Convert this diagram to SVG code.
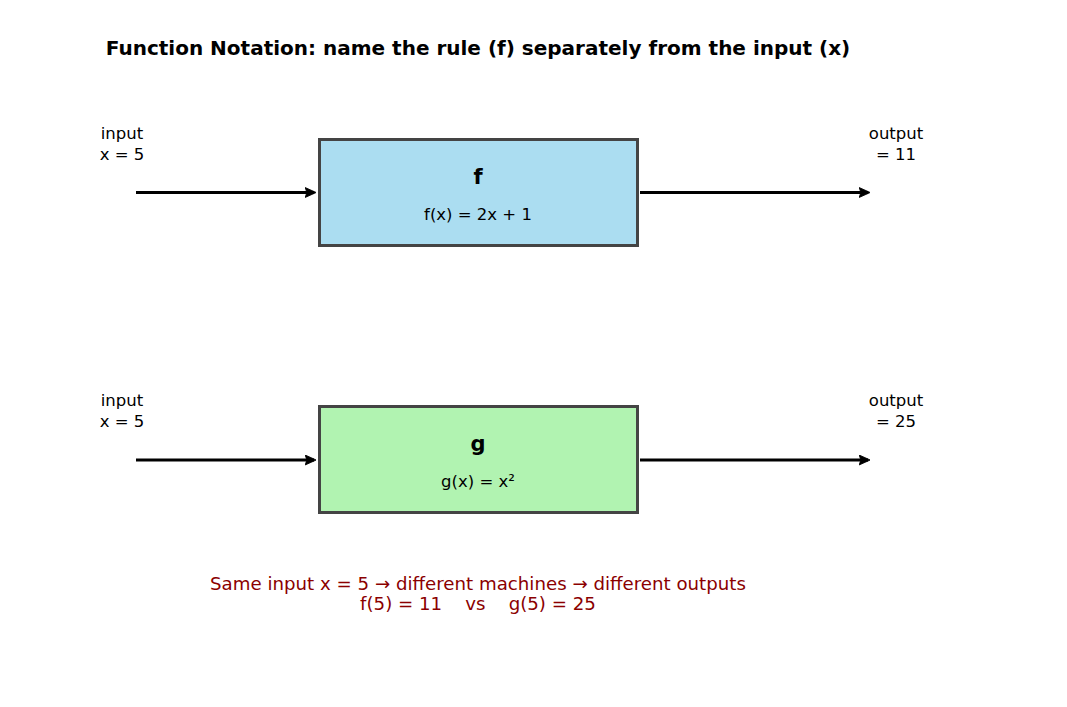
<svg xmlns="http://www.w3.org/2000/svg" width="1067" height="707" viewBox="0 0 1067 707">
<style>
text{font-family:"DejaVu Sans",sans-serif;fill:#000}
.lbl{font-size:16.5px;text-anchor:middle}
.name{font-size:21px;font-weight:bold;text-anchor:middle}
.rule{font-size:16.5px;text-anchor:middle}
.box{stroke:#444;stroke-width:3}
.conn{stroke:#000;stroke-width:2.8;fill:none}
.note{font-size:18.2px;text-anchor:middle;fill:#8b0000;white-space:pre}
</style>
<defs>
<marker id="ah" viewBox="0 0 10 10" refX="8" refY="5" markerWidth="11" markerHeight="11" orient="auto" markerUnits="userSpaceOnUse">
<path d="M0,0.5 L10,5 L0,9.5 L1.5,5 z" fill="#000" stroke="#000" stroke-width="0.8" stroke-linejoin="round"/>
</marker>
</defs>
<rect width="1067" height="707" fill="#fff"/>
<text x="478" y="55" style="font-size:20px;font-weight:bold;text-anchor:middle">Function Notation: name the rule (f) separately from the input (x)</text>
<g id="connectors">
<line class="conn" x1="136" y1="192.5" x2="314" y2="192.5" marker-end="url(#ah)"/>
<line class="conn" x1="640" y1="192.5" x2="868" y2="192.5" marker-end="url(#ah)"/>
<line class="conn" x1="136" y1="460" x2="314" y2="460" marker-end="url(#ah)"/>
<line class="conn" x1="640" y1="460" x2="868" y2="460" marker-end="url(#ah)"/>
</g>
<g id="input-f">
<text class="lbl" x="122" y="139">input</text>
<text class="lbl" x="122" y="160">x = 5</text>
</g>
<g id="machine-f">
<rect class="box" x="319.5" y="139.5" width="318" height="106" fill="#abddf1"/>
<text class="name" x="478" y="184">f</text>
<text class="rule" x="478" y="220">f(x) = 2x + 1</text>
</g>
<g id="output-f">
<text class="lbl" x="896" y="139">output</text>
<text class="lbl" x="896" y="160">= 11</text>
</g>
<g id="input-g">
<text class="lbl" x="122" y="406">input</text>
<text class="lbl" x="122" y="427">x = 5</text>
</g>
<g id="machine-g">
<rect class="box" x="319.5" y="406.5" width="318" height="106" fill="#b1f3b1"/>
<text class="name" x="478" y="451">g</text>
<text class="rule" x="478" y="487">g(x) = x²</text>
</g>
<g id="output-g">
<text class="lbl" x="896" y="406">output</text>
<text class="lbl" x="896" y="427">= 25</text>
</g>
<g id="note">
<text class="note" x="478" y="590">Same input x = 5 → different machines → different outputs</text>
<text class="note" x="478" y="610" xml:space="preserve">f(5) = 11    vs    g(5) = 25</text>
</g>
</svg>
